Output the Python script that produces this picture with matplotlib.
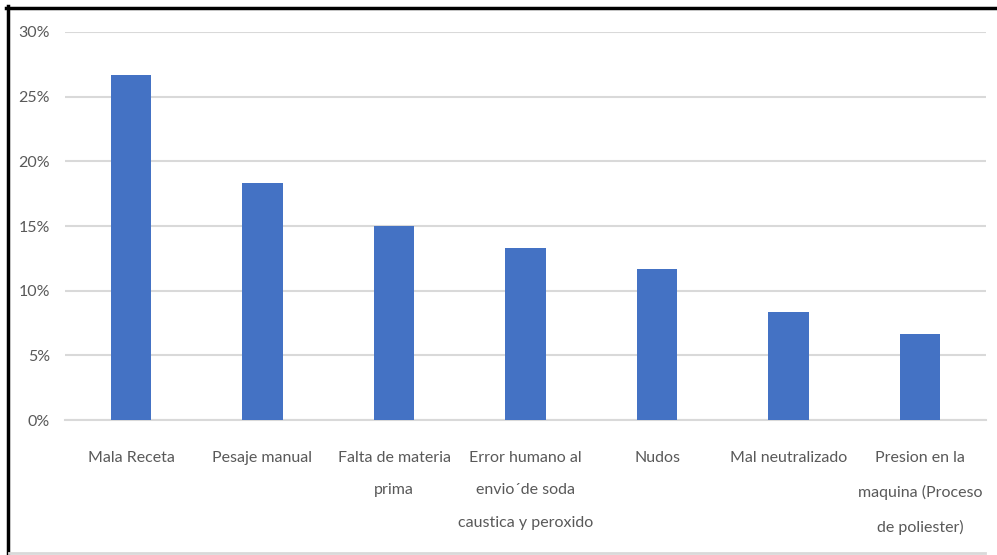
import matplotlib.pyplot as plt
from matplotlib.lines import Line2D
from matplotlib.ticker import PercentFormatter, MultipleLocator

# Causes and their share of the defects
causes = [
    'Mala Receta',
    'Pesaje manual',
    'Falta de materia\nprima',
    'Error humano al\nenvio\u00b4de soda\ncaustica y peroxido',
    'Nudos',
    'Mal neutralizado',
    'Presion en la\nmaquina (Proceso\nde poliester)',
]
shares = [0.2667, 0.1833, 0.15, 0.1333, 0.1167, 0.0833, 0.0667]

bar_color = '#4472C4'
grid_color = '#D9D9D9'
text_color = '#595959'

plt.rcParams['font.family'] = ['Lato', 'DejaVu Sans']

fig = plt.figure(figsize=(9.97, 5.55), dpi=100)
ax = fig.add_axes([65.25 / 997, 1 - 420 / 555, (985.75 - 65.25) / 997, (420 - 32) / 555])

x = range(len(causes))
ax.bar(x, shares, width=0.31, color=bar_color, zorder=3)

ax.set_xlim(-0.5, len(causes) - 0.5)
ax.set_ylim(0, 0.30)
ax.yaxis.set_major_locator(MultipleLocator(0.05))
ax.yaxis.set_major_formatter(PercentFormatter(1.0, decimals=0))
ax.grid(axis='y', color=grid_color, linewidth=1.5, zorder=0)
ax.set_axisbelow(True)

ax.set_xticks(list(x))
ax.set_xticklabels(causes, fontsize=11.5, color=text_color, linespacing=2.68, va='top')
ax.tick_params(axis='x', length=0, pad=22)
ax.tick_params(axis='y', length=0, pad=11, labelsize=11.5, labelcolor=text_color)

for side in ['top', 'right', 'left']:
    ax.spines[side].set_visible(False)
ax.spines['bottom'].set_color(grid_color)
ax.spines['bottom'].set_linewidth(1.5)

# Frame around the chart area
fig.add_artist(Line2D([7.5 / 997, 7.5 / 997], [0, 1 - 6 / 555], color='black', linewidth=2.5,
                      transform=fig.transFigure))
fig.add_artist(Line2D([6 / 997, 1], [1 - 7.5 / 555, 1 - 7.5 / 555], color='black', linewidth=2.5,
                      transform=fig.transFigure))
fig.add_artist(Line2D([9 / 997, 985 / 997], [1 - 553 / 555, 1 - 553 / 555], color=grid_color,
                      linewidth=2, transform=fig.transFigure))

fig.savefig('out.png', dpi=100, facecolor='white')
